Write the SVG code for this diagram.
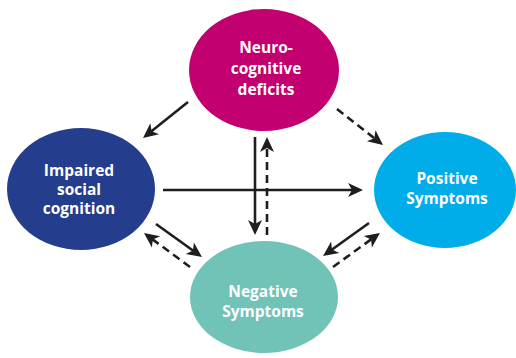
<svg xmlns="http://www.w3.org/2000/svg" width="516" height="358" viewBox="0 0 516 358">
<style>
.lbl{font-family:"Open Sans","Noto Sans","Liberation Sans",sans-serif;font-weight:700;font-size:15.5px;fill:#fff;text-anchor:middle}
.c{stroke:#1e1e1e;stroke-width:2.6;fill:none;marker-end:url(#ah)}
.d{stroke-dasharray:8 5}
</style>
<defs>
<marker id="ah" viewBox="-10 -8 17 16" refX="0" refY="0" markerWidth="17" markerHeight="16" markerUnits="userSpaceOnUse" orient="auto">
<path d="M-9,-7 L6,0 L-9,7 L-5,0 Z" fill="#1e1e1e"/>
</marker>
</defs>
<rect width="516" height="358" fill="#fff"/>
<g id="neurocognitive">
<ellipse cx="264" cy="70" rx="75" ry="61" fill="#C2006F"/>
<text class="lbl" x="266" y="53">Neuro-</text>
<text class="lbl" x="266" y="74">cognitive</text>
<text class="lbl" x="266" y="95">deficits</text>
</g>
<g id="social">
<ellipse cx="81" cy="189" rx="74" ry="61" fill="#243D8D"/>
<text class="lbl" x="79" y="176">Impaired</text>
<text class="lbl" x="79" y="195">social</text>
<text class="lbl" x="79" y="214">cognition</text>
</g>
<g id="positive">
<ellipse cx="445" cy="190" rx="71" ry="58" fill="#00ADE8"/>
<text class="lbl" x="447" y="184">Positive</text>
<text class="lbl" x="447" y="204">Symptoms</text>
</g>
<g id="negative">
<ellipse cx="264" cy="297" rx="74" ry="56" fill="#70C3B6"/>
<text class="lbl" x="263" y="297">Negative</text>
<text class="lbl" x="263" y="317">Symptoms</text>
</g>
<g id="connectors">
<line class="c" x1="188" y1="102" x2="147.7" y2="134.3"/>
<line class="c d" x1="337" y1="109" x2="378.3" y2="141.3"/>
<line class="c" x1="255" y1="137" x2="255" y2="229"/>
<line class="c d" x1="267" y1="235" x2="267" y2="143"/>
<line class="c" x1="163" y1="190" x2="357" y2="190"/>
<line class="c" x1="156" y1="224" x2="197.1" y2="253.5"/>
<line class="c d" x1="190" y1="267" x2="148.8" y2="236.6"/>
<line class="c" x1="369" y1="223" x2="327.9" y2="252.5"/>
<line class="c d" x1="333" y1="267" x2="375.1" y2="236.5"/>
</g>
</svg>
